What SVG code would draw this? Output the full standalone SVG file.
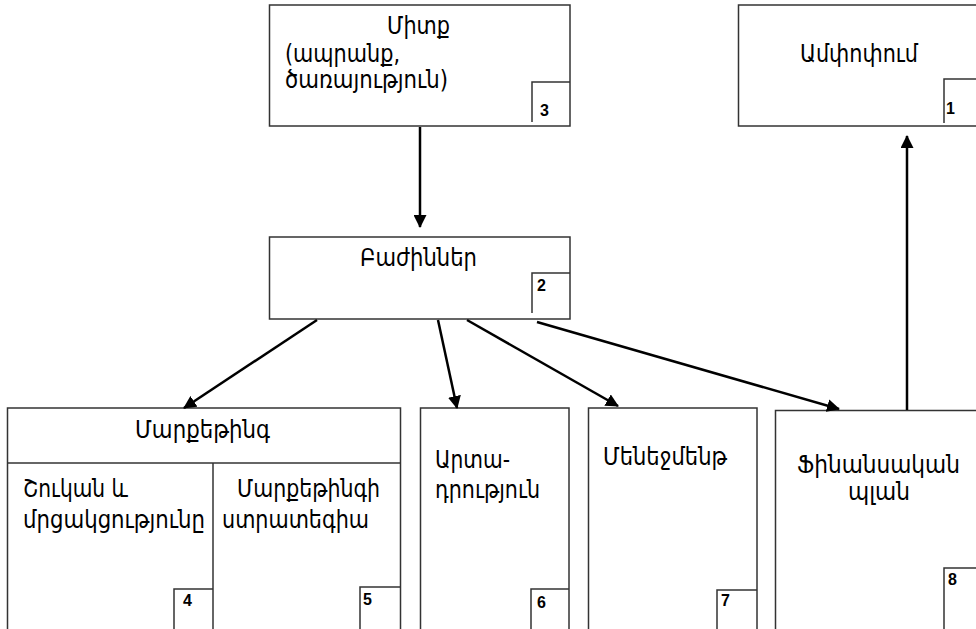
<svg xmlns="http://www.w3.org/2000/svg" width="976" height="629" viewBox="0 0 976 629">
<style>
.box{fill:#fff;stroke:#333;stroke-width:1.5}
.ln{fill:none;stroke:#333;stroke-width:1.5}
.t{font-family:"DejaVu Sans","Noto Sans",sans-serif;font-size:24px;fill:#000}
.n{font-family:"Liberation Sans",Arial,sans-serif;font-size:16px;font-weight:bold;fill:#000}
.arr{stroke:#000;stroke-width:2.5;fill:none;marker-end:url(#ah)}
</style>
<defs>
<marker id="ah" markerUnits="userSpaceOnUse" markerWidth="13" markerHeight="13" refX="12" refY="6.5" orient="auto">
<path d="M0,0 L13,6.5 L0,13 z" fill="#000"/>
</marker>
</defs>
<rect width="976" height="629" fill="#fff"/>
<g id="n3">
<rect class="box" x="269.5" y="5" width="300.5" height="121"/>
<text class="t" x="387" y="34" textLength="63" lengthAdjust="spacingAndGlyphs">Միտք</text>
<text class="t" x="285" y="62" textLength="115" lengthAdjust="spacingAndGlyphs">(ապրանք,</text>
<text class="t" x="285" y="88" textLength="163" lengthAdjust="spacingAndGlyphs">ծառայություն)</text>
<polyline class="ln" points="532,122 532,82 570,82"/>
<text class="n" x="540" y="116">3</text>
</g>
<g id="n1">
<rect class="box" x="738.5" y="5" width="250" height="121"/>
<text class="t" x="800" y="62" textLength="118" lengthAdjust="spacingAndGlyphs">Ամփոփում</text>
<polyline class="ln" points="944,123 944,79 976,79"/>
<text class="n" x="946" y="114">1</text>
</g>
<g id="n2">
<rect class="box" x="269.5" y="237" width="300.5" height="82"/>
<text class="t" x="360" y="266" textLength="117" lengthAdjust="spacingAndGlyphs">Բաժիններ</text>
<polyline class="ln" points="532,313 532,273 570,273"/>
<text class="n" x="537" y="291">2</text>
</g>
<g id="n-marketing">
<rect class="box" x="7.5" y="408" width="393" height="240"/>
<line class="ln" x1="7.5" y1="463" x2="400.5" y2="463"/>
<line class="ln" x1="213" y1="463" x2="213" y2="640"/>
<text class="t" x="135" y="438" textLength="135" lengthAdjust="spacingAndGlyphs">Մարքեթինգ</text>
</g>
<g id="n4">
<text class="t" x="23" y="497" textLength="105" lengthAdjust="spacingAndGlyphs">Շուկան և</text>
<text class="t" x="23" y="528" textLength="182" lengthAdjust="spacingAndGlyphs">մրցակցությունը</text>
<polyline class="ln" points="174,640 174,589 213,589"/>
<text class="n" x="183" y="606">4</text>
</g>
<g id="n5">
<text class="t" x="237" y="497" textLength="143" lengthAdjust="spacingAndGlyphs">Մարքեթինգի</text>
<text class="t" x="222" y="528" textLength="147" lengthAdjust="spacingAndGlyphs">ստրատեգիա</text>
<polyline class="ln" points="360,640 360,587 400,587"/>
<text class="n" x="363" y="605">5</text>
</g>
<g id="n6">
<rect class="box" x="420.5" y="408" width="148.5" height="240"/>
<text class="t" x="435" y="468" textLength="75" lengthAdjust="spacingAndGlyphs">Արտա-</text>
<text class="t" x="435" y="498" textLength="105" lengthAdjust="spacingAndGlyphs">դրություն</text>
<polyline class="ln" points="531,640 531,589 569,589"/>
<text class="n" x="537" y="608">6</text>
</g>
<g id="n7">
<rect class="box" x="588.5" y="408" width="168.5" height="240"/>
<text class="t" x="603" y="465" textLength="124" lengthAdjust="spacingAndGlyphs">Մենեջմենթ</text>
<polyline class="ln" points="717,640 717,590 757,590"/>
<text class="n" x="721" y="606">7</text>
</g>
<g id="n8">
<rect class="box" x="775.5" y="410.5" width="230" height="240"/>
<text class="t" x="797" y="473" textLength="163" lengthAdjust="spacingAndGlyphs">Ֆինանսական</text>
<text class="t" x="848" y="500" textLength="62" lengthAdjust="spacingAndGlyphs">պլան</text>
<polyline class="ln" points="944,640 944,568 976,568"/>
<text class="n" x="948" y="585">8</text>
</g>
<g id="connectors">
<line class="arr" x1="420" y1="127" x2="420" y2="227"/>
<line class="arr" x1="907" y1="410" x2="907" y2="136"/>
<line class="arr" x1="317" y1="320" x2="184" y2="408"/>
<line class="arr" x1="438" y1="320" x2="457" y2="408"/>
<line class="arr" x1="467" y1="320" x2="618" y2="406"/>
<line class="arr" x1="537" y1="322" x2="839" y2="409"/>
</g>
</svg>
